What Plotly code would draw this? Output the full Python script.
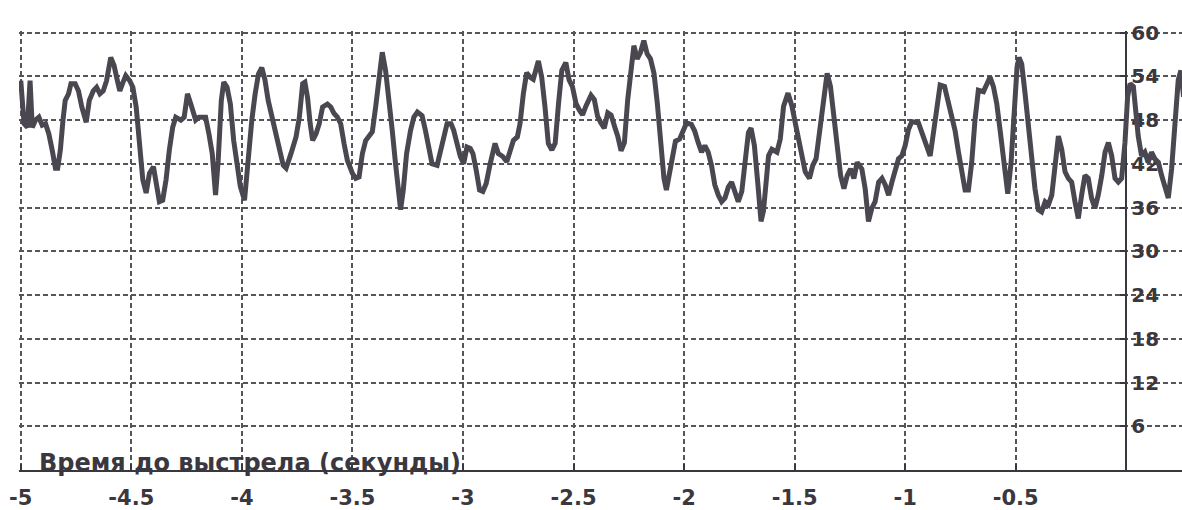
import plotly.graph_objects as go

time_s = [
    -5.000, -4.985, -4.970, -4.958, -4.948, -4.933, -4.918, -4.903, -4.888, -4.873,
    -4.858, -4.843, -4.833, -4.821, -4.809, -4.799, -4.784, -4.773, -4.754, -4.739,
    -4.724, -4.704, -4.690, -4.672, -4.657, -4.642, -4.627, -4.612, -4.593, -4.578,
    -4.563, -4.552, -4.540, -4.525, -4.507, -4.493, -4.478, -4.463, -4.448, -4.433,
    -4.418, -4.400, -4.388, -4.373, -4.358, -4.343, -4.328, -4.313, -4.299, -4.276,
    -4.261, -4.246, -4.231, -4.209, -4.194, -4.164, -4.149, -4.134, -4.119, -4.107,
    -4.093, -4.082, -4.067, -4.052, -4.037, -4.022, -4.007, -3.988, -3.973, -3.955,
    -3.940, -3.925, -3.910, -3.896, -3.881, -3.866, -3.851, -3.836, -3.813,
    -3.800, -3.778, -3.755, -3.740, -3.725, -3.715, -3.703, -3.691, -3.680, -3.665,
    -3.650, -3.635, -3.613, -3.598, -3.583, -3.568, -3.553, -3.538, -3.523, -3.500,
    -3.485, -3.470, -3.455, -3.440, -3.425, -3.410, -3.395, -3.380, -3.365, -3.350,
    -3.335, -3.320, -3.305, -3.290, -3.282, -3.270, -3.255, -3.237, -3.222, -3.206,
    -3.185, -3.170, -3.155, -3.140, -3.117, -3.102, -3.087, -3.072, -3.054, -3.042,
    -3.027, -3.012, -2.997, -2.982, -2.967, -2.955, -2.940, -2.925, -2.910, -2.895,
    -2.877, -2.855, -2.840, -2.820, -2.802, -2.787, -2.772, -2.754, -2.742, -2.727,
    -2.712, -2.697, -2.682, -2.659, -2.644, -2.629, -2.614, -2.598, -2.583, -2.568,
    -2.553,
    -2.535, -2.520, -2.505, -2.489, -2.474, -2.459, -2.444, -2.421, -2.406, -2.391,
    -2.376, -2.361, -2.345, -2.330, -2.315, -2.300, -2.285, -2.270, -2.255, -2.239,
    -2.227, -2.212, -2.197, -2.182, -2.167, -2.152, -2.136, -2.121, -2.106, -2.091,
    -2.080, -2.070, -2.055, -2.039, -2.020, -2.005, -1.989, -1.967, -1.952, -1.936,
    -1.921, -1.906, -1.891, -1.876, -1.861, -1.845, -1.830, -1.815, -1.800, -1.785,
    -1.770, -1.755, -1.739, -1.724, -1.709, -1.697, -1.682, -1.667, -1.652, -1.641,
    -1.630, -1.618, -1.603, -1.580, -1.565, -1.550, -1.530, -1.512, -1.497, -1.482,
    -1.467, -1.452, -1.433, -1.418, -1.403, -1.388, -1.373, -1.353, -1.338, -1.323,
    -1.308, -1.292, -1.277, -1.262, -1.247, -1.232, -1.217,
    -1.196, -1.181, -1.166, -1.151, -1.136, -1.120, -1.105, -1.090, -1.075, -1.060,
    -1.045, -1.030, -1.015, -1.000, -0.985, -0.970, -0.940, -0.925, -0.902, -0.887,
    -0.872, -0.857, -0.842, -0.822, -0.804, -0.789, -0.774, -0.759, -0.744, -0.729,
    -0.714, -0.699, -0.684, -0.669, -0.646, -0.631, -0.616, -0.601, -0.586, -0.571,
    -0.557, -0.545, -0.536, -0.521, -0.506, -0.494, -0.485, -0.473, -0.458, -0.443,
    -0.428, -0.413, -0.398, -0.383, -0.367, -0.352, -0.337, -0.322, -0.307, -0.292,
    -0.277, -0.262, -0.247, -0.232, -0.217, -0.202, -0.187, -0.172, -0.157, -0.142,
    -0.127, -0.111, -0.096, -0.081, -0.066, -0.051, -0.036, -0.021, -0.006, 0.006,
    0.017, 0.032, 0.042, 0.054, 0.069, 0.084, 0.099, 0.114, 0.129, 0.145,
    0.160, 0.175, 0.190, 0.205, 0.220, 0.235, 0.247, 0.259,
]

value = [
    53.4, 47.5, 47.0, 53.4, 47.0, 48.0, 48.4, 47.3, 47.5, 46.1,
    43.9, 41.4, 41.4, 43.9, 48.0, 50.7, 51.6, 53.0, 53.0, 52.0,
    49.8, 47.7, 50.7, 52.0, 52.5, 51.6, 52.0, 53.4, 56.6, 55.5,
    53.4, 52.0, 53.0, 54.1, 53.4, 52.5, 49.8, 44.8, 39.8, 38.0,
    40.7, 41.6, 39.8, 36.8, 37.0, 39.8, 43.9, 47.0, 48.4, 48.0,
    48.4, 51.6, 50.2, 48.0, 48.4, 48.4, 46.1, 43.4, 37.7, 42.5,
    50.7, 53.2, 52.5, 50.2, 45.2, 42.5, 38.9, 37.0, 42.5, 48.0,
    51.6, 54.3, 55.2, 53.6, 50.7, 48.9, 47.0, 44.8, 41.8,
    41.4, 43.4, 45.7, 48.4, 53.0, 53.2, 51.1, 47.5, 45.2, 46.1,
    47.5, 49.8, 50.2, 49.8, 48.9, 48.4, 47.5, 44.8, 42.5, 40.7,
    40.0, 40.2, 43.4, 45.2, 45.7, 46.4, 49.8, 53.4, 57.3, 54.8,
    51.1, 46.6, 42.0, 37.5, 35.7, 38.4, 43.4, 46.6, 48.4, 49.1,
    48.6, 46.6, 43.9, 42.0, 41.8, 43.9, 46.1, 47.5, 47.5, 46.6,
    44.8, 43.0, 42.0, 44.3, 44.1, 43.4, 41.1, 38.4, 38.2, 39.3,
    42.0, 44.8, 43.4, 43.0, 42.3, 43.9, 45.2, 45.7, 47.5, 51.6,
    54.5, 53.9, 53.6, 56.1, 53.9, 49.8, 44.8, 43.9, 44.8, 50.2,
    54.8,
    55.9, 53.5, 52.6, 50.3, 49.4, 48.7, 49.9, 51.4, 50.8, 48.5,
    47.6, 46.9, 49.0, 48.7, 47.2, 45.8, 43.8, 44.9, 50.8, 55.3,
    58.2, 56.4, 57.3, 58.9, 57.1, 56.4, 54.4, 50.3, 44.5, 40.0,
    38.4, 40.0, 43.1, 45.1, 45.4, 46.3, 47.6, 47.4, 46.5, 44.9,
    43.6, 44.5, 43.6, 41.8, 39.1, 37.7, 36.8, 37.3, 38.8, 39.5,
    38.2, 36.8, 38.2, 42.7, 46.3, 46.9, 44.5, 39.5, 34.1, 35.5,
    39.1, 43.1, 44.0, 43.6, 45.4, 49.9, 51.7, 49.9, 47.6, 45.4,
    43.1, 40.9, 40.0, 41.8, 42.7, 46.3, 50.8, 54.4, 52.6, 48.5,
    44.5, 40.4, 38.6, 40.4, 41.3, 40.0, 42.2,
    41.3, 38.6, 34.1, 35.9, 36.8, 39.5, 40.0, 39.1, 37.7, 39.5,
    41.3, 42.7, 43.1, 44.5, 46.7, 47.8, 47.6, 46.3, 44.0, 43.1,
    46.3, 50.3, 52.8, 52.6, 50.3, 48.5, 46.5, 43.6, 40.4, 38.4,
    38.4, 42.2, 48.1, 52.1, 51.9, 52.8, 53.9, 52.6, 50.3, 46.7,
    42.7, 39.1, 37.9, 42.2, 50.3, 55.3, 56.6, 55.7, 51.7, 47.2,
    43.1, 38.6, 35.7, 35.4, 36.8, 36.4, 37.7, 41.3, 45.8, 44.0,
    40.9, 40.0, 39.5, 36.8, 34.5, 37.7, 40.4, 40.0, 37.3, 35.9,
    37.7, 40.4, 43.6, 44.9, 43.1, 40.0, 39.5, 40.0, 44.9, 51.2,
    53.0, 52.6, 49.4, 45.8, 43.1, 43.6, 42.2, 43.6, 42.7, 42.2,
    40.4, 38.6, 37.3, 41.3, 48.1, 53.5, 54.8, 51.2,
]

x_tick_vals = [-5, -4.5, -4, -3.5, -3, -2.5, -2, -1.5, -1, -0.5]
x_tick_text = ["-5", "-4.5", "-4", "-3.5", "-3", "-2.5", "-2", "-1.5", "-1", "-0.5"]
y_tick_vals = [6, 12, 18, 24, 30, 36, 42, 48, 54, 60]
y_tick_text = ["6", "12", "18", "24", "30", "36", "42", "48", "54", "60"]
axis_caption = "Время до выстрела (секунды)"

# ranges padded a hair so the edge gridlines (-5 and 60) are still drawn
X_MIN, X_MAX = -5.008, 0.252
Y_MIN, Y_MAX = 0, 60.22

INK = "#3a383e"
GRID = "#56545a"
FONT = "DejaVu Sans, Arial, sans-serif"

fig = go.Figure(
    go.Scatter(
        x=time_s, y=value, mode="lines",
        line=dict(color="#4a4751", width=5),
        hoverinfo="skip",
    )
)

fig.update_layout(
    width=1182, height=510,
    margin=dict(l=19, r=0, t=31, b=33),
    paper_bgcolor="white", plot_bgcolor="white",
    showlegend=False,
    xaxis=dict(
        range=[X_MIN, X_MAX],
        tickmode="array", tickvals=x_tick_vals, ticktext=x_tick_text,
        showgrid=True, gridcolor=GRID, gridwidth=1.5, griddash="5px,3px",
        showline=True, linecolor=INK, linewidth=2,
        ticks="inside", ticklen=6, tickwidth=2, tickcolor=INK,
        tickfont=dict(family=FONT, size=21, color=INK, weight="bold"),
        ticklabelstandoff=8,
        zeroline=False, fixedrange=True,
    ),
    yaxis=dict(
        range=[Y_MIN, Y_MAX],
        anchor="free", position=(0 - X_MIN) / (X_MAX - X_MIN), side="right",
        tickmode="array", tickvals=y_tick_vals, ticktext=y_tick_text,
        showgrid=True, gridcolor=GRID, gridwidth=1.5, griddash="5px,3px",
        showline=True, linecolor=INK, linewidth=2,
        ticks="inside", ticklen=5, tickwidth=2, tickcolor=INK,
        tickfont=dict(family=FONT, size=20, color=INK, weight="bold"),
        zeroline=False, fixedrange=True,
        layer="below traces",
    ),
)

fig.add_annotation(
    text=axis_caption, xref="x", yref="y",
    x=-4.925, y=0.9, xanchor="left", yanchor="middle",
    showarrow=False,
    font=dict(family=FONT, size=24, color=INK, weight="bold"),
)

fig.write_html("out.html")
